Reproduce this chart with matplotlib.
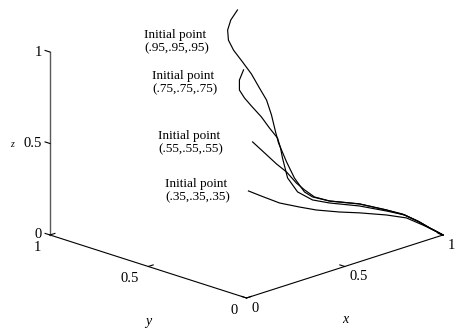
import matplotlib
matplotlib.use('Agg')
import matplotlib.pyplot as plt

plt.rcParams['font.family'] = ['Liberation Serif', 'DejaVu Serif']

# trajectories (x, y, z)
a95_x = [0.927, 0.900, 0.882, 0.874, 0.877, 0.880, 0.883, 0.863, 0.851, 0.824, 0.799, 0.782,
         0.762, 0.747, 0.748, 0.758, 0.786, 0.848, 0.896, 0.927, 0.955, 0.976, 1.0]
a95_y = [0.973, 0.980, 0.978, 0.966, 0.943, 0.900, 0.858, 0.797, 0.749, 0.697, 0.651, 0.619,
         0.558, 0.503, 0.453, 0.422, 0.364, 0.273, 0.184, 0.133, 0.085, 0.045, 0.0]
a95_z = [0.920, 0.872, 0.824, 0.776, 0.728, 0.677, 0.625, 0.576, 0.531, 0.477, 0.408, 0.365,
         0.289, 0.225, 0.166, 0.146, 0.134, 0.128, 0.109, 0.094, 0.063, 0.031, 0.0]

a75_x = [0.743, 0.722, 0.707, 0.705, 0.703, 0.708, 0.709, 0.714, 0.707, 0.697, 0.680, 0.690,
         0.718, 0.756, 0.823, 0.881, 0.922, 0.955, 0.978, 1.0]
a75_y = [0.758, 0.758, 0.743, 0.715, 0.678, 0.632, 0.592, 0.556, 0.534, 0.514, 0.471, 0.430,
         0.382, 0.334, 0.248, 0.169, 0.118, 0.075, 0.037, 0.0]
a75_z = [0.730, 0.682, 0.637, 0.604, 0.574, 0.528, 0.481, 0.437, 0.393, 0.349, 0.260, 0.194,
         0.157, 0.144, 0.134, 0.114, 0.096, 0.061, 0.028, 0.0]

a55_x = [0.566, 0.586, 0.607, 0.627, 0.647, 0.663, 0.683, 0.721, 0.793, 0.856, 0.902, 0.940, 0.971, 1.0]
a55_y = [0.535, 0.494, 0.454, 0.423, 0.393, 0.368, 0.337, 0.299, 0.218, 0.144, 0.098, 0.060, 0.030, 0.0]
a55_z = [0.474, 0.421, 0.367, 0.327, 0.270, 0.236, 0.201, 0.179, 0.166, 0.137, 0.109, 0.071, 0.033, 0.0]

a35_x = [0.355, 0.398, 0.459, 0.530, 0.593, 0.672, 0.738, 0.826, 0.887, 0.938, 0.971, 1.0]
a35_y = [0.345, 0.322, 0.291, 0.260, 0.237, 0.199, 0.163, 0.114, 0.073, 0.042, 0.019, 0.0]
a35_z = [0.344, 0.309, 0.261, 0.225, 0.195, 0.170, 0.155, 0.130, 0.107, 0.062, 0.031, 0.0]

ticks = [0, 0.5, 1]
tick_labels = ['0', '0.5', '1']
notes = ['Initial point\n(.95,.95,.95)', 'Initial point\n(.75,.75,.75)',
         'Initial point\n(.55,.55,.55)', 'Initial point\n(.35,.35,.35)']
note_pos = [(144, 41.5), (152, 82.5), (158, 142.5), (165, 190.5)]  # pixels from top-left

W, H = 456, 328
fig = plt.figure(figsize=(W / 100, H / 100), dpi=100)
ax = fig.add_axes([28.2 / W, -33.8 / H, 425.1 / W, 425.1 / H], projection='3d', proj_type='ortho')
ax.set_box_aspect((1, 1, 0.695))
ax.view_init(elev=18.7, azim=-135)
ax.set_xlim(0, 1)
ax.set_ylim(0, 1)
ax.set_zlim(0, 1)
ax.set_xticks([])
ax.set_yticks([])
ax.set_zticks([])
for axis in (ax.xaxis, ax.yaxis, ax.zaxis):
    axis.label.set_visible(False)
    axis.offsetText.set_visible(False)
ax.title.set_visible(False)
ax.set_axis_off()

for xs, ys, zs in [(a95_x, a95_y, a95_z), (a75_x, a75_y, a75_z),
                   (a55_x, a55_y, a55_z), (a35_x, a35_y, a35_z)]:
    ax.plot(xs, ys, zs, color='black', lw=0.85)

# axis lines, drawn by hand like the original box-off view
ax.plot([0, 1], [0, 0], [0, 0], color='black', lw=0.8)
ax.plot([0, 0], [0, 1], [0, 0], color='black', lw=0.8)
ax.plot([0, 0], [1, 1], [0, 1], color='0.35', lw=1.0)

tl = 0.025
fs = 10.5
for t, s in zip(ticks, tick_labels):
    ax.plot([t, t], [0, tl], [0, 0], color='black', lw=0.8)
    ax.plot([0, tl], [t, t], [0, 0], color='black', lw=0.8)
    ax.plot([0, 0], [1, 1 + tl], [t, t], color='black', lw=0.8)
    ax.text(t, -0.025, -0.048, s, ha='left', va='center', fontsize=fs)
    ax.text(-0.046, t, -0.05, s, ha='right', va='center', fontsize=fs)
    ax.text(-0.02, 1.02, t, s, ha='right', va='center', fontsize=fs)

ax.text(0.5, 0, -0.29, 'x', ha='center', va='center', fontsize=10, style='italic')
ax.text(0, 0.5, -0.3, 'y', ha='center', va='center', fontsize=10, style='italic')
ax.text(-0.108, 1.085, 0.5, 'z', ha='center', va='center', fontsize=7, style='italic', rotation=90)

for s, (px, py) in zip(notes, note_pos):
    fig.text(px / W, 1 - py / H, s, ha='left', va='center', fontsize=9.5)

fig.savefig('out.png', dpi=100, facecolor='white')
